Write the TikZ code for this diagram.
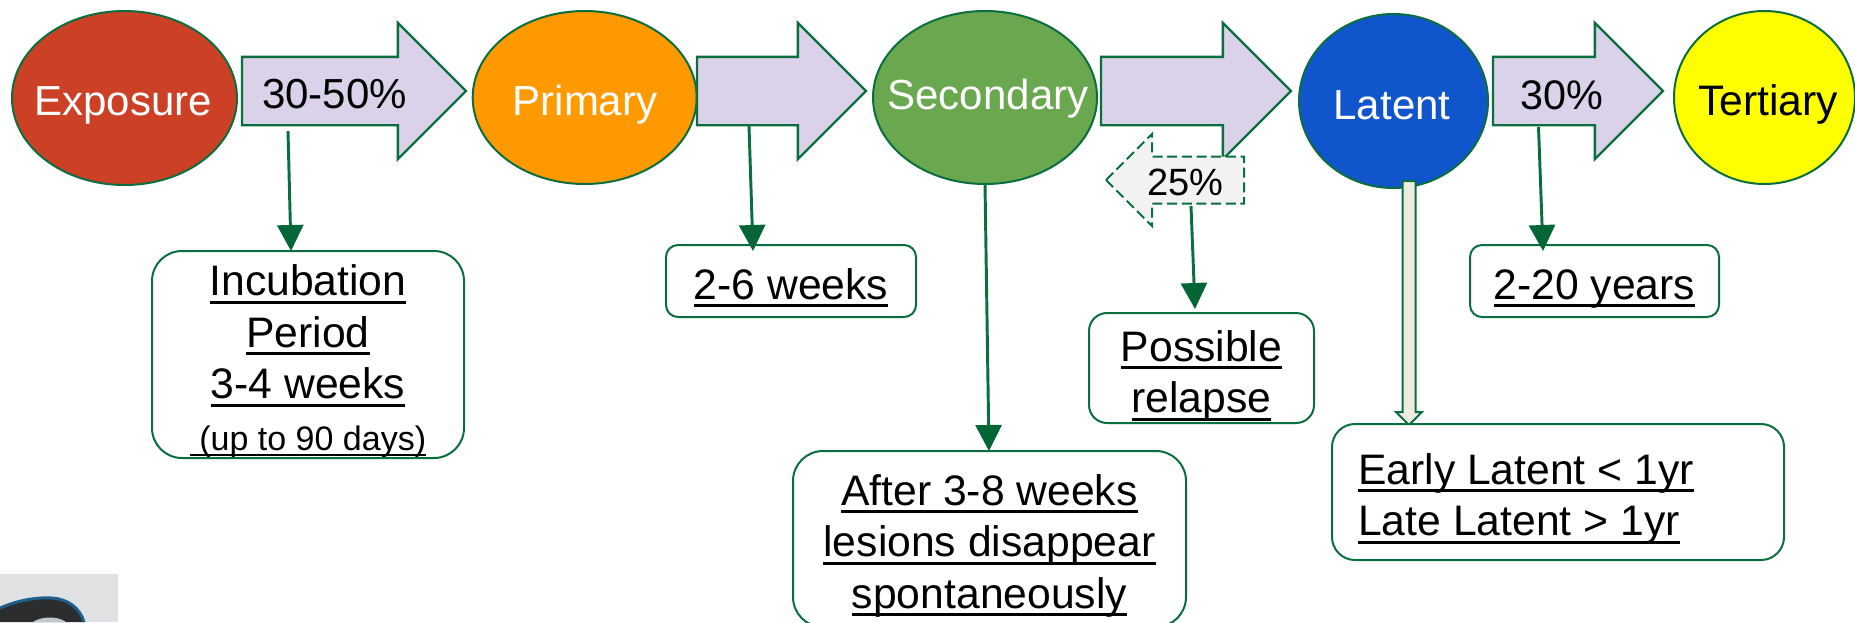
\documentclass[tikz,border=0pt]{standalone}
\usepackage{fontspec}
\setmainfont{Liberation Sans}
\usetikzlibrary{shapes.geometric,shapes.arrows,arrows.meta}
\definecolor{lineGreen}{HTML}{0B6E3F}
\definecolor{headGreen}{HTML}{046637}
\definecolor{arrowLilac}{HTML}{D9D2E9}
\definecolor{relapseGray}{HTML}{F2F2F2}
\definecolor{stemCream}{HTML}{EEECE1}
\newsavebox{\ulbox}
\newcommand{\ulx}[1]{\sbox{\ulbox}{#1}\rlap{\vrule width\wd\ulbox height -3.75pt depth 6pt}\usebox{\ulbox}}
\newcommand{\uls}[1]{\sbox{\ulbox}{#1}\rlap{\vrule width\wd\ulbox height -2.4pt depth 4.3pt}\usebox{\ulbox}}
\newcommand{\boxtext}[3][c]{\raisebox{#2}[0pt][0pt]{\begin{tabular}[t]{@{}#1@{}}#3\end{tabular}}}
\newcommand{\smallrow}[1]{\fontsize{25.5}{38.7}\selectfont #1}
\tikzset{
  stage/.style={ellipse,draw=lineGreen,line width=1.5pt,inner sep=0pt,outer sep=0pt},
  flow/.style={single arrow,draw=lineGreen,fill=arrowLilac,line width=1.8pt,inner sep=0pt,outer sep=0pt,
    anchor=tip,text height=66*.75pt,text depth=0pt,single arrow head extend=34*.75pt,single arrow head indent=0pt},
  word/.style={inner sep=0pt,outer sep=0pt,anchor=base,font=\fontsize{31.5}{38.7}\selectfont},
  note/.style={draw=lineGreen,fill=white,line width=1.5pt,inner sep=0pt,outer sep=0pt,
    font=\fontsize{32}{38.7}\selectfont},
  link/.style={draw=lineGreen,line width=2.2pt,-{Triangle[length=19.5pt,width=19.5pt,color=headGreen]}},
}
\begin{document}
\begin{tikzpicture}[x=.75pt,y=-.75pt]
\clip (0,0) rectangle (1855,622);
\fill[white] (0,0) rectangle (1855,622);

% logo fragment
\fill[fill={rgb,255:red,224;green,225;blue,227}] (0,574) rectangle (118,622);
\fill[fill={rgb,255:red,43;green,45;blue,47}] (0,608) .. controls (18,600) and (38,597) .. (52,598) .. controls (68,599) and (80,608) .. (84,622) -- (0,622) -- cycle;
\draw[draw={rgb,255:red,31;green,95;blue,139},line width=2.2pt] (0,608) .. controls (18,600) and (38,597) .. (52,598) .. controls (68,599) and (80,608) .. (84,622);
\fill[fill={rgb,255:red,196;green,200;blue,204}] (33,622) .. controls (40,617) and (56,615) .. (66,622) -- cycle;

% stages
\node[stage,fill={rgb,255:red,204;green,65;blue,37},minimum width=225*.75pt,minimum height=174*.75pt] (exposure) at (124.5,98) {};
\node[stage,fill={rgb,255:red,255;green,153;blue,0},minimum width=224*.75pt,minimum height=173*.75pt] (primary) at (584.7,97.5) {};
\node[stage,fill={rgb,255:red,106;green,168;blue,79},minimum width=224*.75pt,minimum height=173*.75pt] (secondary) at (985,97.5) {};
\node[stage,fill={rgb,255:red,17;green,85;blue,204},minimum width=189*.75pt,minimum height=174*.75pt] (latent) at (1393.5,101) {};
\node[stage,fill={rgb,255:red,255;green,255;blue,0},minimum width=181*.75pt,minimum height=173*.75pt] (tertiary) at (1764.5,97.5) {};

% flow arrows
\node[flow,minimum height=224*.75pt] (a1) at (466,91) {};
\node[flow,minimum height=169*.75pt] (a2) at (866,91) {};
\node[flow,minimum height=190*.75pt] (a3) at (1291,91) {};
\node[flow,minimum height=170*.75pt] (a4) at (1663,91) {};

% relapse arrow
\node[single arrow,shape border rotate=180,draw=lineGreen,fill=relapseGray,line width=1.5pt,
  dash pattern=on 7.5pt off 3.5pt,inner sep=0pt,outer sep=0pt,anchor=tip,
  text height=45*.75pt,text depth=0pt,minimum height=138*.75pt,single arrow head extend=22.5*.75pt,single arrow head indent=0pt] (a5) at (1106,180) {};

% latent stem
\node[single arrow,shape border rotate=270,draw=lineGreen,fill=stemCream,line width=1.5pt,inner sep=0pt,outer sep=0pt,anchor=tip,
  text width=11*.75pt,minimum height=244*.75pt,single arrow head extend=6.5*.75pt,single arrow head indent=0pt] (a6) at (1409,425) {};

% labels
\node[word,text=white] (tExposure) at (123,115) {Exposure};
\node[word,text=white] (tPrimary) at (585,115) {Primary};
\node[word,text=white] (tSecondary) at (988,109) {Secondary};
\node[word,text=white] (tLatent) at (1392,119) {Latent};
\node[word,font=\fontsize{32}{38.7}\selectfont] (tTertiary) at (1768,115) {Tertiary};
\node[word] (t3050) at (334.5,108) {30-50\%};
\node[word,font=\fontsize{28.5}{34}\selectfont] (t25) at (1185.5,195) {25\%};
\node[word,font=\fontsize{31}{38.7}\selectfont] (t30) at (1561.5,109) {30\%};

% notes
\node[note,rounded corners=30*.75pt,minimum width=312*.75pt,minimum height=207*.75pt] (n1) at (308,354.5)
  {\boxtext{44.25pt}{\ulx{Incubation}\\ \ulx{Period}\\ \ulx{3-4 weeks}\\ \smallrow{\uls{\ (up to 90 days)}}}};
\node[note,rounded corners=12*.75pt,minimum width=250*.75pt,minimum height=72*.75pt] (n2) at (791,281)
  {\boxtext{-13.5pt}{\ulx{2-6 weeks}}};
\node[note,rounded corners=30*.75pt,minimum width=393*.75pt,minimum height=176*.75pt] (n3) at (989.5,539)
  {\boxtext{25.5pt}{\ulx{After 3-8 weeks}\\ \ulx{lesions disappear}\\ \ulx{spontaneously}}};
\node[note,rounded corners=18*.75pt,minimum width=225*.75pt,minimum height=110*.75pt] (n4) at (1201.5,368)
  {\boxtext{5.25pt}{\ulx{Possible}\\ \ulx{relapse}}};
\node[note,rounded corners=12*.75pt,minimum width=249*.75pt,minimum height=72*.75pt] (n5) at (1594.5,281)
  {\boxtext{-13.5pt}{\ulx{2-20 years}}};
\node[note,rounded corners=23*.75pt,minimum width=452*.75pt,minimum height=136*.75pt] (n6) at (1558,492)
  {\boxtext[l]{6pt}{\ulx{Early Latent < 1yr}\\ \ulx{Late Latent > 1yr}}\kern48pt};

% connector ends
\coordinate (s1) at (288,131);
\coordinate (e1) at (291,250);
\coordinate (s2) at (749,126);
\coordinate (e2) at (753,251);
\coordinate (e3) at (989,450);
\coordinate (s4) at (1191,206);
\coordinate (e4) at (1195,309);
\coordinate (s5) at (1538.5,127);
\coordinate (e5) at (1543,251);

\draw[link] (s1) -- (e1 |- n1.north);
\draw[link] (s2) -- ([yshift=-4.5pt]e2 |- n2.north);
\draw[link] (secondary.south) -- (e3 |- n3.north);
\draw[link] (s4) -- ([yshift=3pt]e4 |- n4.north);
\draw[link] (s5) -- ([yshift=-4.5pt]e5 |- n5.north);
\end{tikzpicture}
\end{document}
